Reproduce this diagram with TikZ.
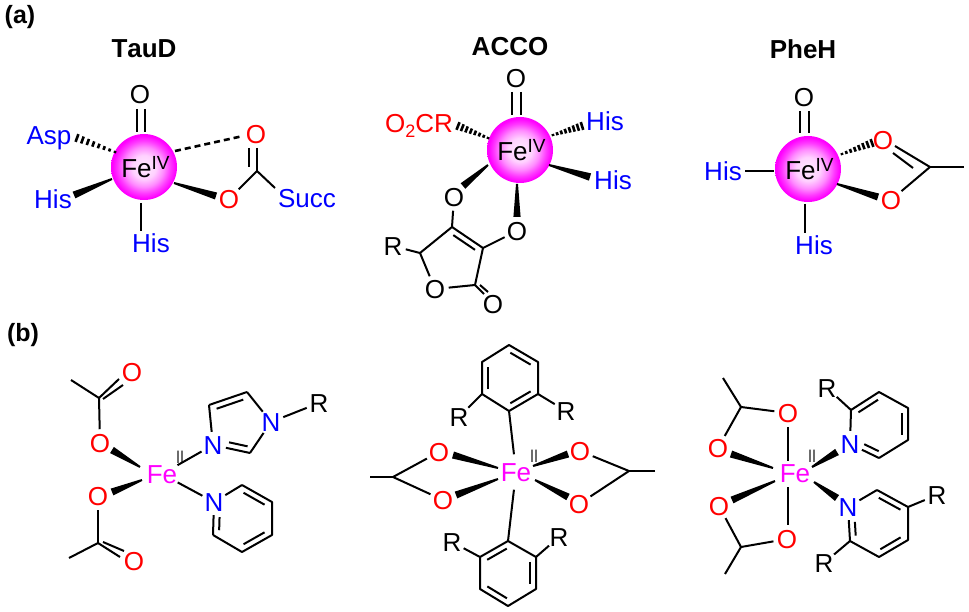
\documentclass[tikz,border=0pt]{standalone}
\usepackage{fontspec}
\setmainfont{Liberation Sans}
\usepackage{graphicx}
\usetikzlibrary{calc}
\definecolor{fuch}{RGB}{255,0,255}
\definecolor{inkb}{RGB}{0,0,255}
\definecolor{inkr}{RGB}{255,0,0}
\pgfdeclareradialshading{sphball}{\pgfpointorigin}{color(0bp)=(white!92!fuch); color(9bp)=(white!82!fuch); color(15bp)=(white!55!fuch); color(20bp)=(white!22!fuch); color(24bp)=(fuch); color(50bp)=(fuch)}
\tikzset{
  bond/.style={line width=2pt,line cap=butt},
  bigfont/.style={font=\fontsize{26}{30}\selectfont},
  atomb/.style={circle,inner sep=0pt,outer sep=0pt,bigfont,text height=18.7pt,text depth=0pt},
  lab/.style={rectangle,inner sep=1pt,outer sep=0pt,bigfont,text height=18.7pt,text depth=0pt},
  oxy/.style={atomb,text=inkr},
  nit/.style={atomb,text=inkb},
  rgrp/.style={atomb,text=black},
  lig/.style={lab,text=inkb},
  fe/.style={atomb,text=fuch},
  ironball/.style={circle,inner sep=0pt,outer sep=0pt,minimum size=66pt,shading=sphball,bigfont},
  heading/.style={font=\fontsize{26}{30}\bfseries\selectfont,inner sep=0pt},
  panel/.style={font=\fontsize{25}{30}\bfseries\selectfont,inner sep=0pt},
  oxst/.style={font=\fontsize{18}{20}\selectfont,inner sep=0pt,text=black!85},
}
% straight bond between two offset points of named nodes
\newcommand\bsg[7][]{\draw[bond,#1] ($(#2)+(#3,#4)$) -- ($(#5)+(#6,#7)$);}
% solid wedge: narrow at first, broad at second
\newcommand\wdg[7]{\path coordinate (wt) at ($(#1)+(#2,#3)$) coordinate (wb) at ($(#4)+(#5,#6)$);
  \fill[black] ($(wt)!1pt!90:(wb)$) -- ($(wb)!#7pt!-90:(wt)$) -- ($(wb)!#7pt!90:(wt)$) -- ($(wt)!1pt!-90:(wb)$) -- cycle;}
% hashed wedge
\newcommand\hsh[7]{\path coordinate (wt) at ($(#1)+(#2,#3)$) coordinate (wb) at ($(#4)+(#5,#6)$) coordinate (wx) at ($(wt)!2!(wb)$);
  \foreach \k in {0,...,7}{\pgfmathsetmacro\ff{\k/7}\pgfmathsetmacro\hw{1.1+#7*\ff}
    \path coordinate (hc) at ($(wt)!\ff!(wb)$);
    \draw[line width=2.6pt] ($(hc)!\hw pt!90:(wx)$) -- ($(hc)!\hw pt!-90:(wx)$);}}
% inner line of a ring, on the right side of A->B
\newcommand\inb[4]{\path coordinate (pa) at ($(#1)!#3!(#2)$) coordinate (pb) at ($(#1)!#4!(#2)$);
  \draw[bond] ($(pa)!6pt!-90:(pb)$) -- ($(pb)!6pt!90:(pa)$);}
\begin{document}
\begin{tikzpicture}[x=1pt,y=-1pt]
\useasboundingbox (0,0) rectangle (969,612);
\fill[white] (0,0) rectangle (969,612);
\newcommand\feiv{\hspace*{3pt}Fe{\raisebox{8pt}{\fontsize{19}{20}\selectfont IV}}}
\newcommand\oxii{\scalebox{.8}[1]{II}}
% ---------- panel labels and titles
\node[panel] (pa) at (20,17) {(a)};
\node[panel] (pb) at (23,335) {(b)};
\node[heading] (tauD) at (144,49) {\addfontfeature{Kerning=Off}TauD};
\node[heading] (acco) at (510,47) {ACCO};
\node[heading] (pheH) at (803,49) {PheH};
% ---------- TauD
\node[ironball] (feA) at (144,167) {\feiv};
\node[atomb] (oA1) at (140,94) {O};
\node[lig] (aspA) at (49,135) {Asp};
\node[lig] (hisA1) at (53,199) {His};
\node[lig] (hisA2) at (151,243) {His};
\node[oxy] (oA2) at (256,134) {O};
\node[oxy] (oA3) at (229,199) {O};
\node[lig] (succ) at (307,198) {Succ};
\coordinate (cA) at (257,171);
\bsg{oA1}{-3}{15}{feA}{-7}{-35}
\bsg{oA1}{5}{15}{feA}{1}{-35}
\hsh{feA}{-29}{-15}{aspA}{28}{3}{3}
\wdg{feA}{-32}{12}{hisA1}{21}{-4}{3.6}
\bsg{feA}{-3}{36}{hisA2}{-10}{-12}
\bsg[dash pattern=on 6pt off 4pt,line width=2.6pt]{feA}{31}{-16}{oA2}{-13}{2}
\wdg{feA}{30}{16}{oA3}{-13}{-3}{3.6}
\bsg{oA2}{-7.5}{14}{cA}{-8.5}{-4}
\bsg{oA2}{1}{14}{cA}{0}{0}
\draw[bond] (oA3) -- (cA);
\bsg{cA}{0}{0}{succ}{-32}{-10}
% ---------- ACCO
\node[ironball] (feB) at (520,150) {\feiv};
\node[atomb] (oB1) at (516,78) {O};
\node[lab,text=inkr] (o2cr) at (419,123) {O\raisebox{-5pt}{\fontsize{18}{20}\selectfont 2}CR};
\node[lig] (hisB1) at (605,121) {His};
\node[lig] (hisB2) at (613,180) {His};
\node[atomb] (oB2) at (454,197) {O};
\node[atomb] (oB3) at (517,231) {O};
\node[atomb] (oB4) at (435,289) {O};
\node[atomb] (oB5) at (493,304) {O};
\node[rgrp] (rB) at (393,246) {R};
\coordinate (cB1) at (452,227);
\coordinate (cB2) at (483,248);
\coordinate (cB3) at (475,285);
\coordinate (cB4) at (420,253);
\bsg{oB1}{-4}{14}{feB}{-8}{-35}
\bsg{oB1}{5}{14}{feB}{1}{-35}
\hsh{feB}{-32}{-12}{o2cr}{39}{3}{3}
\hsh{feB}{33}{-15}{hisB1}{-23}{5}{3}
\wdg{feB}{29}{15}{hisB2}{-23}{-3}{3.8}
\wdg{feB}{-32}{15}{oB2}{9}{-11}{3.6}
\wdg{feB}{-3}{34}{oB3}{0}{-14}{3.6}
\draw[bond] (oB2) -- (cB1);
\draw[bond] (oB3) -- (cB2);
\draw[bond,line join=round] (cB4) -- (cB1) -- (cB2) -- (cB3);
\draw[bond] (cB3) -- (oB4);
\draw[bond] (oB4) -- (cB4);
\draw[bond] (rB) -- (cB4);
\inb{cB1}{cB2}{.15}{.85}
\bsg{cB3}{0}{0}{oB5}{-9}{-10}
\bsg{cB3}{5}{0}{oB5}{-5}{-12}
% ---------- PheH
\node[ironball] (feC) at (808,169) {\feiv};
\node[atomb] (oC1) at (804,97) {O};
\node[lig] (hisC1) at (723,171) {His};
\node[lig] (hisC2) at (814,245) {His};
\node[oxy] (oC2) at (883,140) {O};
\node[oxy] (oC3) at (891,200) {O};
\coordinate (cC) at (930,167);
\coordinate (mC) at (964,167);
\bsg{oC1}{-4}{14}{feC}{-8}{-36}
\bsg{oC1}{5}{14}{feC}{1}{-36}
\bsg{hisC1}{22}{0}{feC}{-34}{2}
\bsg{feC}{-3}{35}{hisC2}{-9}{-12}
\hsh{feC}{34}{-15}{oC2}{-11}{3}{3}
\wdg{feC}{29}{15}{oC3}{-13}{-3}{3.6}
\bsg{oC2}{12}{6}{cC}{0}{0}
\bsg{oC2}{10}{13}{cC}{-17}{1}
\draw[bond] (oC3) -- (cC);
\draw[bond] (cC) -- (mC);
% ---------- (b) left
\node[fe] (fe1) at (162,474) {Fe};
\node[oxst] (ii1) at (180,457) {\oxii};
\node[oxy] (oD1) at (132,372) {O};
\node[oxy] (oD2) at (100,443) {O};
\node[oxy] (oD3) at (98,496) {O};
\node[oxy] (oD4) at (134,561) {O};
\node[nit] (n1) at (213,445) {N};
\node[nit] (n2) at (271,422) {N};
\node[nit] (pN) at (214,502) {N};
\node[rgrp] (rD) at (319,403) {R};
\coordinate (cD1) at (99,398);
\coordinate (mD1) at (71,380);
\coordinate (cD2) at (98,543);
\coordinate (mD2) at (69,558);
\coordinate (ca) at (209,405);
\coordinate (cb) at (247,392);
\coordinate (cc) at (250,453);
\coordinate (p2) at (242,485);
\coordinate (p3) at (272,502);
\coordinate (p4) at (272,535);
\coordinate (p5) at (242,552);
\coordinate (p6) at (213,535);
\draw[bond] (mD1) -- (cD1);
\draw[bond] (cD1) -- (oD2);
\bsg{cD1}{0}{0}{oD1}{-13}{7}
\bsg{cD1}{4}{1}{oD1}{-9}{13}
\draw[bond] (mD2) -- (cD2);
\draw[bond] (cD2) -- (oD3);
\bsg{cD2}{0}{0}{oD4}{-14}{-4}
\bsg{cD2}{5}{-1}{oD4}{-10}{-10}
\wdg{fe1}{-22}{-7}{oD2}{12}{7}{3.6}
\wdg{fe1}{-20}{6}{oD3}{14}{-4}{3.6}
\draw[bond] (fe1) -- (n1);
\draw[bond] (fe1) -- (pN);
\draw[bond] (n1) -- (ca);
\draw[bond,line join=round] (ca) -- (cb);
\draw[bond] (cb) -- (n2);
\draw[bond] (n2) -- (cc);
\draw[bond] (cc) -- (n1);
\draw[bond] (n2) -- (rD);
\inb{ca}{cb}{.15}{.85}
\inb{cc}{n1}{.1}{.6}
\draw[bond] (pN) -- (p2);
\draw[bond,line join=round] (p2) -- (p3) -- (p4) -- (p5) -- (p6);
\draw[bond] (p6) -- (pN);
\inb{p2}{p3}{.15}{.85}
\inb{p4}{p5}{.15}{.85}
\inb{p6}{pN}{.15}{.55}
% ---------- (b) middle
\node[fe] (fe2) at (516,472) {Fe};
\node[oxst] (ii2) at (534,456) {\oxii};
\node[rgrp] (rT1) at (459,417) {R};
\node[rgrp] (rT2) at (566,411) {R};
\node[rgrp] (rB1) at (452,542) {R};
\node[rgrp] (rB2) at (559,537) {R};
\node[oxy] (oE1) at (439,452) {O};
\node[oxy] (oE2) at (443,500) {O};
\node[oxy] (oE3) at (580,451) {O};
\node[oxy] (oE4) at (579,504) {O};
\coordinate (t1) at (509,411);
\coordinate (t2) at (482,394);
\coordinate (t3) at (482,362);
\coordinate (t4) at (509,345);
\coordinate (t5) at (538,362);
\coordinate (t6) at (538,394);
\coordinate (b1) at (508,541);
\coordinate (b2) at (536,557);
\coordinate (b3) at (536,589);
\coordinate (b4) at (508,606);
\coordinate (b5) at (480,589);
\coordinate (b6) at (480,557);
\coordinate (cE) at (393,477);
\coordinate (mE) at (370,477);
\coordinate (cF) at (629,471);
\coordinate (mF) at (655,471);
\draw[bond,line join=round] (t1) -- (t2) -- (t3) -- (t4) -- (t5) -- (t6) -- cycle;
\draw[bond,line join=round] (b1) -- (b2) -- (b3) -- (b4) -- (b5) -- (b6) -- cycle;
\inb{t2}{t3}{.15}{.85}
\inb{t4}{t5}{.15}{.85}
\inb{t6}{t1}{.15}{.85}
\inb{b6}{b1}{.15}{.85}
\inb{b2}{b3}{.15}{.85}
\inb{b4}{b5}{.15}{.85}
\draw[bond] (fe2) -- (t1);
\draw[bond] (fe2) -- (b1);
\draw[bond] (t2) -- (rT1);
\draw[bond] (t6) -- (rT2);
\draw[bond] (b6) -- (rB1);
\draw[bond] (b2) -- (rB2);
\draw[bond] (mE) -- (cE);
\draw[bond] (cE) -- (oE1);
\draw[bond] (cE) -- (oE2);
\draw[bond] (mF) -- (cF);
\draw[bond] (cF) -- (oE3);
\draw[bond] (cF) -- (oE4);
\wdg{fe2}{-18}{-4}{oE1}{14}{3}{3.6}
\wdg{fe2}{-18}{7}{oE2}{13}{-5}{3.6}
\wdg{fe2}{17}{-6}{oE3}{-12}{3}{3.6}
\wdg{fe2}{19}{8}{oE4}{-11}{-7}{3.6}
% ---------- (b) right
\node[fe] (fe3) at (795,473) {Fe};
\node[oxst] (ii3) at (812,456.5) {\oxii};
\node[oxy] (oG1) at (788,413) {O};
\node[oxy] (oG2) at (718,448) {O};
\node[oxy] (oG3) at (719,506) {O};
\node[oxy] (oG4) at (787,539) {O};
\node[nit] (nG1) at (850,444) {N};
\node[nit] (nG2) at (848,507) {N};
\node[rgrp] (rG1) at (827,388) {R};
\node[rgrp] (rG2) at (937,495) {R};
\node[rgrp] (rG3) at (824,563) {R};
\coordinate (cG1) at (741,407);
\coordinate (mG1) at (723,378);
\coordinate (cG2) at (741,547);
\coordinate (mG2) at (725,574);
\coordinate (g1) at (851,410);
\coordinate (g2) at (879,392);
\coordinate (g3) at (908,408);
\coordinate (g4) at (908,440);
\coordinate (g5) at (879,458);
\coordinate (h1) at (877,490);
\coordinate (h2) at (908,507);
\coordinate (h3) at (908,540);
\coordinate (h4) at (879,557);
\coordinate (h5) at (850,541);
\bsg{oG1}{0}{14}{fe3}{-7}{-12}
\bsg{fe3}{-7}{14}{oG4}{1}{-14}
\draw[bond] (mG1) -- (cG1);
\draw[bond] (cG1) -- (oG1);
\draw[bond] (cG1) -- (oG2);
\draw[bond] (mG2) -- (cG2);
\draw[bond] (cG2) -- (oG4);
\draw[bond] (cG2) -- (oG3);
\wdg{fe3}{-22}{-5}{oG2}{13}{6}{3.6}
\wdg{fe3}{-20}{8}{oG3}{13}{-6}{3.6}
\wdg{fe3}{17}{-6}{nG1}{-13}{8}{3.6}
\wdg{fe3}{19}{9}{nG2}{-11}{-9}{3.6}
\draw[bond] (nG1) -- (g1);
\draw[bond,line join=round] (g1) -- (g2) -- (g3) -- (g4) -- (g5);
\draw[bond] (g5) -- (nG1);
\inb{g1}{g2}{.15}{.85}
\inb{g3}{g4}{.15}{.85}
\inb{g5}{nG1}{.1}{.6}
\draw[bond] (g1) -- (rG1);
\draw[bond] (nG2) -- (h1);
\draw[bond,line join=round] (h1) -- (h2) -- (h3) -- (h4) -- (h5);
\draw[bond] (h5) -- (nG2);
\inb{h1}{h2}{.15}{.85}
\inb{h3}{h4}{.15}{.85}
\inb{h5}{nG2}{.15}{.55}
\draw[bond] (h2) -- (rG2);
\draw[bond] (h5) -- (rG3);
\end{tikzpicture}
\end{document}
